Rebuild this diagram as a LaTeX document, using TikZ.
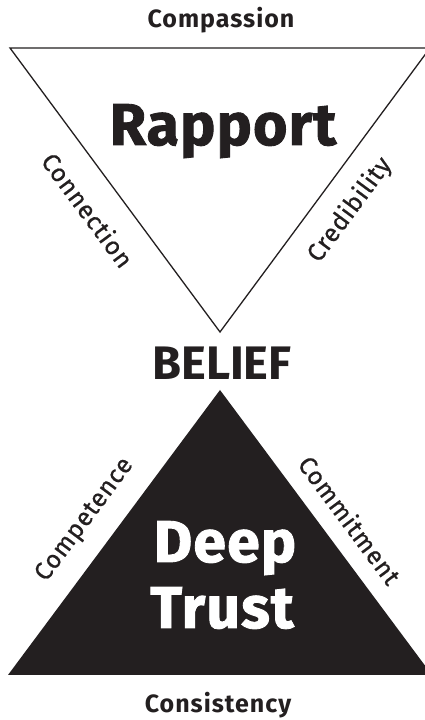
\documentclass[tikz,border=0pt]{standalone}
\usepackage{fontspec}
\setmainfont{Fira Sans}
\newfontfamily\heavyfont{Fira Sans}[BoldFeatures={FakeBold=1.5}, LetterSpace=2]
\newfontfamily\boldfont{Fira Sans}[LetterSpace=4]
\newfontfamily\medfont{Fira Sans}[UprightFeatures={FakeBold=0.6}, LetterSpace=3]
\definecolor{ink}{HTML}{231F20}
\begin{document}
\begin{tikzpicture}[x=1pt,y=1pt,
  lbl/.style={text=ink, inner sep=0pt, font=\medfont\fontsize{25}{28}\selectfont},
  toplbl/.style={text=ink, inner sep=0pt, anchor=base, font=\boldfont\bfseries\fontsize{25}{28}\selectfont},
  big/.style={inner sep=0pt, anchor=base, font=\heavyfont\bfseries\fontsize{59}{62}\selectfont}]
\useasboundingbox (0,0) rectangle (424,720);
\fill[white] (0,0) rectangle (424,720);
% top triangle
\coordinate (t1) at (10,672);
\coordinate (t2) at (430,672);
\coordinate (t3) at (220,388);
\draw[draw=ink, line width=1.3pt, line join=miter] (t1) -- (t2) -- (t3) -- cycle;
% bottom triangle
\coordinate (b1) at (220,330);
\coordinate (b2) at (8,45);
\coordinate (b3) at (432,45);
\fill[ink] (b1) -- (b2) -- (b3) -- cycle;
% texts
\node[toplbl] (comp) at (221,692) {Compassion};
\node[toplbl] (cons) at (218,8) {Consistency};
\node[big, text=ink] (rap) at (223,575) {Rapport};
\node[big, text=ink, font=\bfseries\fontsize{47}{50}\selectfont] (bel) at (222,340) {BELIEF};
\node[big, text=white] (deep) at (225,158) {Deep};
\node[big, text=white] (trust) at (222,92) {Trust};
\node[lbl, rotate=-53.5] (conn) at (88,510) {Connection};
\node[lbl, rotate=53.5] (cred) at (350,510) {Credibility};
\node[lbl, rotate=53.4] (cmpt) at (85,200) {Competence};
\node[lbl, rotate=-53.4] (cmmt) at (350,200) {Commitment};
\end{tikzpicture}
\end{document}
